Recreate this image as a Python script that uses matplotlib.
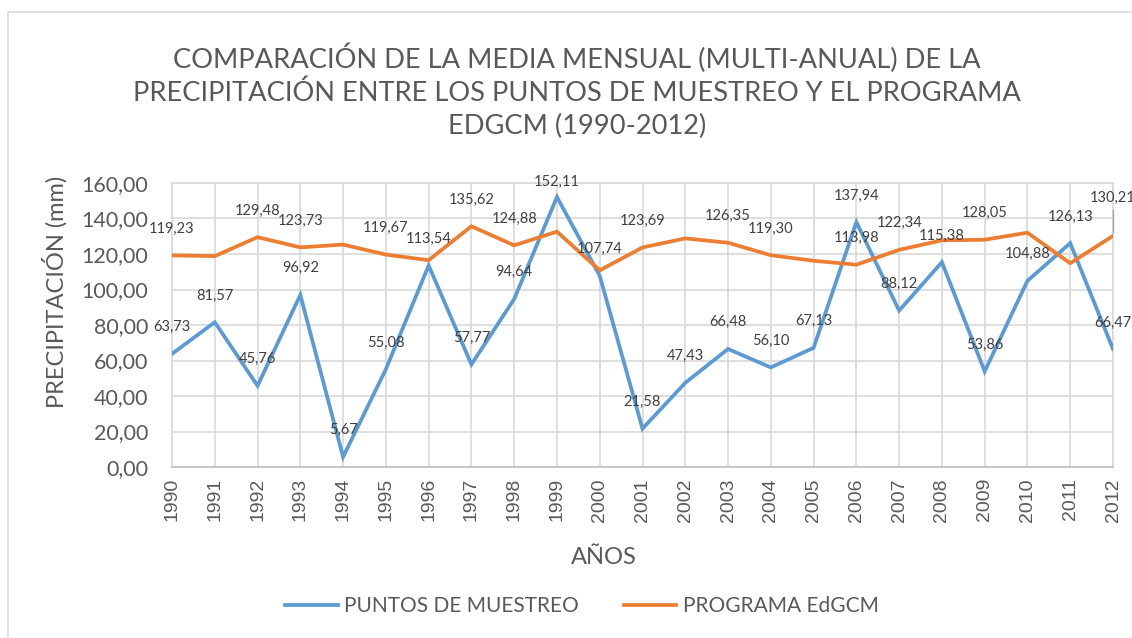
import matplotlib
matplotlib.use("Agg")
import matplotlib.pyplot as plt
from matplotlib.patches import Rectangle

years = list(range(1990, 2013))
puntos = [63.73, 81.57, 45.76, 96.92, 5.67, 55.08, 113.54, 57.77, 94.64, 152.11,
          107.74, 21.58, 47.43, 66.48, 56.10, 67.13, 137.94, 88.12, 115.38, 53.86,
          104.88, 126.13, 66.47]
edgcm = [119.23, 118.8, 129.48, 123.73, 125.3, 119.67, 116.5, 135.62, 124.88, 132.6,
         110.8, 123.69, 128.8, 126.35, 119.30, 116.2, 113.98, 122.34, 127.7, 128.05,
         132.0, 114.8, 130.21]
# years whose EdGCM value carries a data label in the original
edgcm_labelled = [1990, 1992, 1993, 1995, 1997, 1998, 2001, 2003, 2004, 2006,
                  2007, 2009, 2012]
yticks = [0, 20, 40, 60, 80, 100, 120, 140, 160]

BLUE = "#5B9BD5"
ORANGE = "#ED7D31"
GREY = "#595959"
FONT = "Lato"


def fmt(v):
    return f"{v:.2f}".replace(".", ",")


fig = plt.figure(figsize=(11.32, 6.38), dpi=100)
fig.patches.append(Rectangle((8 / 1132, -0.1), 1.2, 1 - 12 / 638 + 0.1,
                             transform=fig.transFigure, fill=False,
                             edgecolor="#d9d9d9", lw=1.2))

ax = fig.add_axes([172 / 1132, 1 - 467 / 638, 941 / 1132, 284 / 638])
ax.plot(years, puntos, color=BLUE, lw=2.7, label="PUNTOS DE MUESTREO",
        solid_joinstyle="miter", zorder=3)
ax.plot(years, edgcm, color=ORANGE, lw=2.7, label="PROGRAMA EdGCM",
        solid_joinstyle="miter", zorder=3)


def label(x, v, lift=15.0):
    # labels sit above the point, kept inside the plot area like Excel does
    ax.text(x, min(v + lift, 160.5), fmt(v), ha="center", va="center",
            fontsize=10.5, color="#404040", family=FONT, clip_on=False, zorder=4)


for x, v in zip(years, puntos):
    label(x, v)
for x, v in zip(years, edgcm):
    if x == years[-1]:
        label(x, v, lift=21.5)
    elif x in edgcm_labelled:
        label(x, v)
# leader line for the last label
ax.plot([years[-1], years[-1]], [edgcm[-1] + 2, edgcm[-1] + 14.5],
        color="#a6a6a6", lw=1, clip_on=False, zorder=4)

ax.set_xlim(years[0], years[-1])
ax.set_ylim(0, 160)
ax.set_xticks(years)
ax.set_xticklabels([str(y) for y in years], rotation=90, fontsize=14,
                   color=GREY, family="Liberation Sans")
ax.set_yticks(yticks)
ax.set_yticklabels([fmt(v) for v in yticks], fontsize=15.5, color=GREY, family=FONT)
ax.tick_params(axis="y", length=0, pad=17)
ax.tick_params(axis="x", length=0, pad=8)
ax.grid(True, color="#d9d9d9", lw=1.2)
ax.set_axisbelow(True)
for s in ["top", "right", "left"]:
    ax.spines[s].set_color("#d9d9d9")
    ax.spines[s].set_linewidth(1.2)
ax.spines["bottom"].set_color("#bfbfbf")
ax.spines["bottom"].set_linewidth(1.2)

fig.text(55 / 1132, 1 - 292 / 638, "PRECIPITACIÓN (mm)", rotation=90, fontsize=17,
         color=GREY, family=FONT, ha="center", va="center")
fig.text(604 / 1132, 1 - 557 / 638, "AÑOS", fontsize=17, color=GREY, family=FONT,
         ha="center", va="center")

fig.text(577 / 1132, 1 - 91 / 638,
         "COMPARACIÓN DE LA MEDIA MENSUAL (MULTI-ANUAL) DE LA\n"
         "PRECIPITACIÓN ENTRE LOS PUNTOS DE MUESTREO Y EL PROGRAMA\n"
         "EDGCM (1990-2012)",
         fontsize=19.6, color=GREY, family=FONT, ha="center", va="center",
         linespacing=1.38)

fig.legend(loc="center", bbox_to_anchor=(582 / 1132, 1 - 606 / 638), ncol=2,
           frameon=False, handlelength=2.5, columnspacing=2.2, handletextpad=0.3,
           prop={"family": FONT, "size": 15}, labelcolor=GREY)

fig.savefig("out.png", dpi=100, facecolor="white")
